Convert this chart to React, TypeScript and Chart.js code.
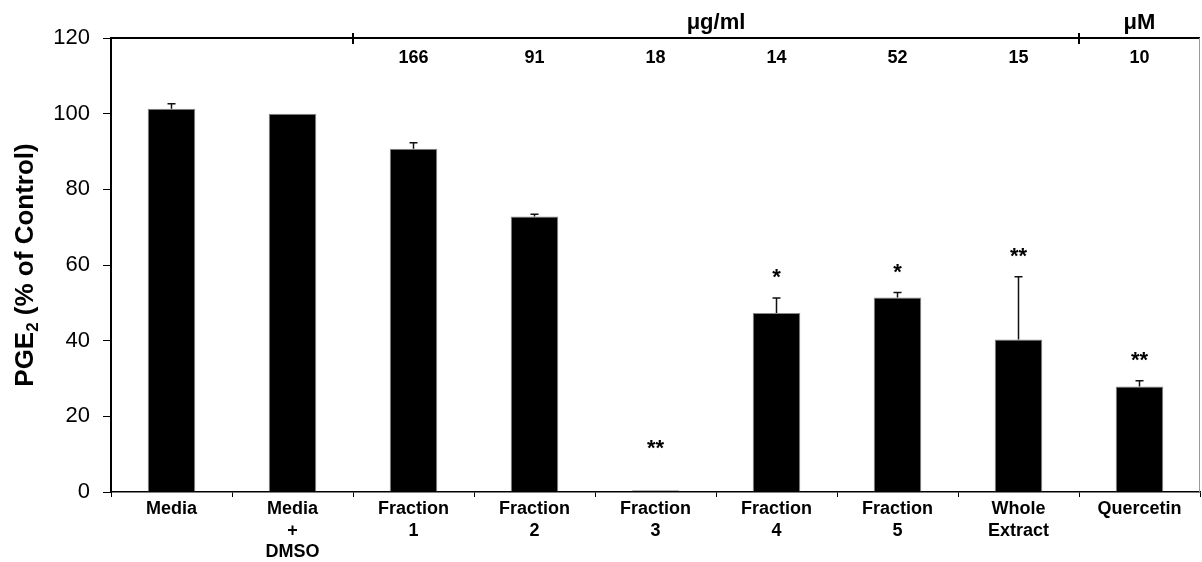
import React, { useEffect, useRef } from "react";
import { Chart, registerables } from "chart.js";

Chart.register(...registerables);

const categories: string[][] = [
  ["Media"],
  ["Media", "+", "DMSO"],
  ["Fraction", "1"],
  ["Fraction", "2"],
  ["Fraction", "3"],
  ["Fraction", "4"],
  ["Fraction", "5"],
  ["Whole", "Extract"],
  ["Quercetin"],
];
const values = [101.3, 100.0, 90.7, 72.8, 0.45, 47.3, 51.4, 40.3, 27.9];
const errors = [1.3, 0, 1.6, 0.6, 0, 4.0, 1.3, 16.6, 1.5];
const significance = ["", "", "", "", "**", "*", "*", "**", "**"];
const doses = ["", "", "166", "91", "18", "14", "52", "15", "10"];
const unitLabels = ["μg/ml", "μM"];
const unitFirst = [2, 8];
const unitLast = [7, 8];
const yTitleMain = "PGE";
const yTitleSub = "2";
const yTitleRest = " (% of Control)";
const yMin = 0;
const yMax = 120;
const yStep = 20;

const FONT = 'Arial, "Liberation Sans", Helvetica, sans-serif';

export default function App() {
  const ref = useRef<HTMLCanvasElement | null>(null);

  useEffect(() => {
    document.body.style.margin = "0";
    const canvas = ref.current;
    if (!canvas) return;
    Chart.defaults.font.family = FONT;

    const overlay = {
      id: "overlay",
      afterDatasetsDraw(chart: any) {
        const ctx = chart.ctx;
        const y = chart.scales.y;
        const x = chart.scales.x;
        const meta = chart.getDatasetMeta(0);
        const area = chart.chartArea;
        ctx.save();
        // error bars
        ctx.strokeStyle = "#111";
        ctx.lineWidth = 1.5;
        values.forEach((v, i) => {
          if (!errors[i]) return;
          const bx = meta.data[i].x;
          const yb = y.getPixelForValue(v);
          const yt = y.getPixelForValue(v + errors[i]);
          ctx.beginPath();
          ctx.moveTo(bx, yb);
          ctx.lineTo(bx, yt);
          ctx.moveTo(bx - 4, yt);
          ctx.lineTo(bx + 4, yt);
          ctx.stroke();
        });
        // significance stars
        ctx.fillStyle = "#000";
        ctx.font = `bold 22px ${FONT}`;
        ctx.textAlign = "center";
        ctx.textBaseline = "alphabetic";
        values.forEach((v, i) => {
          if (!significance[i]) return;
          const bx = meta.data[i].x;
          const yt = y.getPixelForValue(Math.max(v + errors[i], 6));
          ctx.fillText(significance[i], bx, yt - 25 + 11);
        });
        // top border and right border
        ctx.strokeStyle = "#000";
        ctx.lineWidth = 2;
        ctx.beginPath();
        ctx.moveTo(area.left, area.top);
        ctx.lineTo(area.right, area.top);
        ctx.stroke();
        ctx.strokeStyle = "#999";
        ctx.lineWidth = 1;
        ctx.beginPath();
        ctx.moveTo(area.right - 0.5, area.top);
        ctx.lineTo(area.right - 0.5, area.bottom);
        ctx.stroke();
        // dose numbers
        ctx.fillStyle = "#000";
        ctx.font = `bold 18px ${FONT}`;
        doses.forEach((d, i) => {
          if (!d) return;
          ctx.fillText(d, x.getPixelForValue(i), area.top + 25);
        });
        // unit groups
        const catW = (area.right - area.left) / categories.length;
        ctx.font = `bold 22px ${FONT}`;
        ctx.strokeStyle = "#000";
        ctx.lineWidth = 2;
        unitLabels.forEach((u, k) => {
          const left = area.left + unitFirst[k] * catW;
          const right = area.left + (unitLast[k] + 1) * catW;
          ctx.beginPath();
          ctx.moveTo(left, area.top - 5);
          ctx.lineTo(left, area.top + 6);
          ctx.stroke();
          ctx.fillText(u, (left + right) / 2, area.top - 9);
        });
        // y title
        ctx.translate(33, (area.top + area.bottom) / 2);
        ctx.rotate(-Math.PI / 2);
        ctx.textAlign = "left";
        const fMain = `bold 26px ${FONT}`;
        const fSub = `bold 17px ${FONT}`;
        ctx.font = fMain;
        const w1 = ctx.measureText(yTitleMain).width;
        const w3 = ctx.measureText(yTitleRest).width;
        ctx.font = fSub;
        const w2 = ctx.measureText(yTitleSub).width;
        let sx = -(w1 + w2 + w3) / 2;
        ctx.font = fMain;
        ctx.fillText(yTitleMain, sx, 0);
        sx += w1;
        ctx.font = fSub;
        ctx.fillText(yTitleSub, sx, 5);
        sx += w2;
        ctx.font = fMain;
        ctx.fillText(yTitleRest, sx, 0);
        ctx.restore();
      },
    };

    const chart = new Chart(canvas, {
      type: "bar",
      data: {
        labels: categories,
        datasets: [
          {
            data: values,
            backgroundColor: "#000",
            borderColor: "#888",
            borderWidth: 1,
            barPercentage: 0.393,
            categoryPercentage: 1,
          },
        ],
      },
      options: {
        responsive: false,
        animation: false,
        devicePixelRatio: 1,
        layout: { padding: { top: 38, right: 2, left: 0, bottom: 0 } },
        plugins: {
          legend: { display: false },
          tooltip: { enabled: false },
        },
        scales: {
          x: {
            afterFit: (s: any) => {
              s.height = 70;
            },
            grid: {
              offset: true,
              drawOnChartArea: false,
              drawTicks: true,
              tickLength: 5,
              color: "#000",
            },
            border: { display: true, color: "#000", width: 1.5 },
            ticks: {
              color: "#000",
              padding: 2,
              maxRotation: 0,
              autoSkip: false,
              font: { size: 18, weight: "bold", lineHeight: 1.17 },
            },
          },
          y: {
            min: yMin,
            max: yMax,
            afterFit: (s: any) => {
              s.width = 111;
            },
            grid: {
              drawOnChartArea: false,
              drawTicks: true,
              tickLength: 8,
              color: "#000",
            },
            border: { display: true, color: "#000", width: 2 },
            ticks: {
              stepSize: yStep,
              color: "#000",
              padding: 13,
              font: { size: 22 },
            },
          },
        },
      },
      plugins: [overlay],
    } as any);

    return () => chart.destroy();
  }, []);

  return <canvas ref={ref} width={1202} height={562} style={{ display: "block" }} />;
}
